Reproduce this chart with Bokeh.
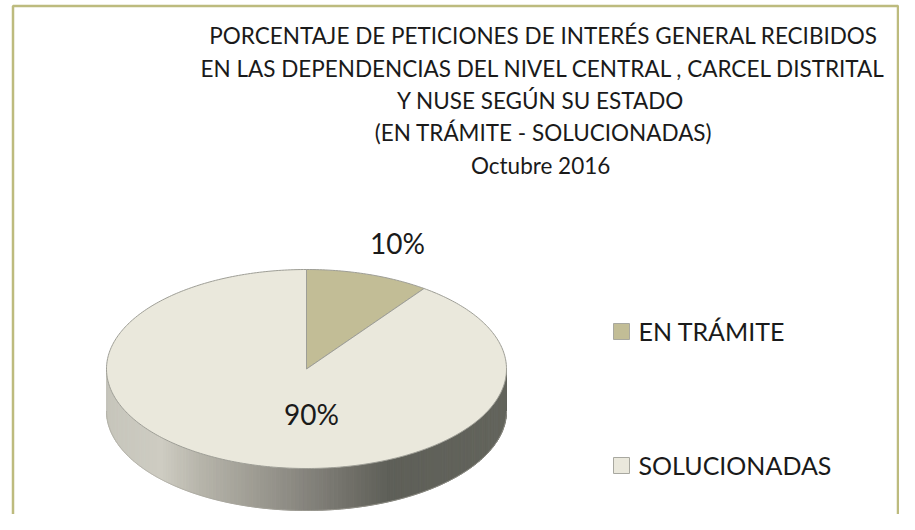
import numpy as np
from bokeh.plotting import figure
from bokeh.models import Range1d
from bokeh.core.properties import value
from bokeh.embed import file_html
from bokeh.resources import INLINE

# ---- data ----
categories = ["EN TRÁMITE", "SOLUCIONADAS"]
percentages = [10, 90]
slice_colors = ["#C2BD96", "#EAE8DC"]
title_lines = [
    "PORCENTAJE DE PETICIONES DE INTERÉS GENERAL RECIBIDOS",
    "EN LAS DEPENDENCIAS DEL NIVEL CENTRAL , CARCEL DISTRITAL",
    "Y NUSE  SEGÚN SU ESTADO",
    "(EN TRÁMITE - SOLUCIONADAS)",
    "Octubre  2016",
]

FONT = "Lato"
TFONT = "Lato"
W, H = 899, 514
p = figure(width=W, height=H, output_backend="svg", toolbar_location=None,
           x_range=Range1d(0, W), y_range=Range1d(H, 0),
           min_border=0, outline_line_color=None)
p.axis.visible = False
p.grid.visible = False
p.background_fill_color = "white"
p.border_fill_color = "white"

# frame border
p.multi_line(xs=[[12.5, 12.5, 897.5, 897.5]], ys=[[520, 5.5, 5.5, 520]],
             line_color="#BDBB7E", line_width=2.5)

# text vertical correction (observed rendering offset)
DY = -10

# title
title_y = [45, 77.5, 110, 142, 175]
p.text(x=[543] * len(title_lines), y=[y + DY for y in title_y], text=title_lines,
       text_font=value(TFONT), text_font_size="22.5px", text_color="#1a1a1a",
       text_align="center", text_baseline="alphabetic")

# 3D pie geometry
cx, cy, rx, ry, depth = 306, 368.5, 200, 99.5, 42

def ex(t):
    return cx + rx * np.sin(t)

def ey(t):
    return cy - ry * np.cos(t)

# side band (front half) with horizontal gradient
stops_x = [106, 160, 200, 260, 300, 350, 388, 506]
stops_c = ["#C6C5BB", "#CECCC2", "#B6B4AA", "#9B9990", "#88867F", "#706F68", "#5E5F58", "#63645C"]

def hex2rgb(h):
    return np.array([int(h[i:i + 2], 16) for i in (1, 3, 5)], dtype=float)

stops_rgb = np.array([hex2rgb(c) for c in stops_c])

def color_at(x):
    r = [np.interp(x, stops_x, stops_rgb[:, k]) for k in range(3)]
    return "#%02x%02x%02x" % tuple(int(round(v)) for v in r)

n = 160
ts = np.linspace(np.pi / 2, 3 * np.pi / 2, n + 1)
sx, sy, sc = [], [], []
for i in range(n):
    t0, t1 = ts[i], ts[i + 1]
    xs = [ex(t0), ex(t1), ex(t1), ex(t0)]
    ys = [ey(t0), ey(t1), ey(t1) + depth, ey(t0) + depth]
    sx.append(xs)
    sy.append(ys)
    sc.append(color_at(0.5 * (ex(t0) + ex(t1))))
p.patches(xs=sx, ys=sy, fill_color=sc, line_color=sc, line_width=1)
# bottom outline of side
tb = np.linspace(np.pi / 2, 3 * np.pi / 2, 200)
p.line(x=ex(tb), y=ey(tb) + depth, line_color="#A8A79E", line_width=1, line_alpha=0.6)

# top faces
total = float(sum(percentages))
start = 0.0
for val, col in zip(percentages, slice_colors):
    ang = 2 * np.pi * val / total
    t = np.linspace(start, start + ang, max(int(val * 4), 20))
    xs = np.concatenate([[cx], ex(t)])
    ys = np.concatenate([[cy], ey(t)])
    p.patch(x=xs, y=ys, fill_color=col, line_color="#9E9E96", line_width=1)
    start += ang

# data labels
lab_text = ["%d%%" % v for v in percentages]
lab_x = [397, 311]
lab_y = [252, 423]
p.text(x=lab_x, y=[y + DY for y in lab_y], text=lab_text, text_font=value(FONT),
       text_font_size="28px", text_color="#1a1a1a",
       text_align="center", text_baseline="alphabetic")

# legend
leg_y = [331, 465]
p.scatter(x=[621, 621], y=leg_y, marker="square", size=16,
          fill_color=slice_colors, line_color="#A8A8A0", line_width=1)
p.text(x=[638, 638], y=[y + 9 + DY for y in leg_y], text=categories,
       text_font=value(FONT), text_font_size="25px", text_color="#1a1a1a",
       text_align="left", text_baseline="alphabetic")

open("out.html", "w").write(file_html(p, INLINE))
